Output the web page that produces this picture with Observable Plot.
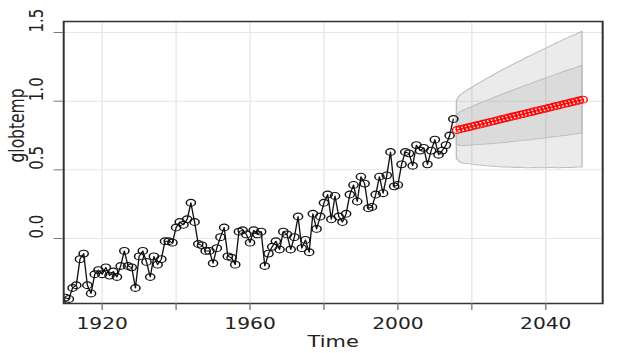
<!DOCTYPE html>
<html>
<head>
<meta charset="utf-8">
<script src="https://cdn.jsdelivr.net/npm/d3@7"></script>
<script src="https://cdn.jsdelivr.net/npm/@observablehq/plot@0.6"></script>
<style>
  html, body { margin: 0; padding: 0; background: #fff; }
  #chart svg { display: block; }
</style>
</head>
<body>
<div id="chart"></div>
<script>
// ---- data ----
const firstYear = 1909;
const globtemp = [
  -0.48, -0.43, -0.44, -0.36, -0.34, -0.15, -0.11, -0.34, -0.40, -0.26, -0.23,
  -0.26, -0.21, -0.27, -0.24, -0.28, -0.20, -0.09, -0.20, -0.21, -0.36,
  -0.13, -0.09, -0.17, -0.28, -0.13, -0.19, -0.15, -0.02, -0.02, -0.03,
   0.08,  0.12,  0.10,  0.14,  0.26,  0.12, -0.04, -0.05, -0.09, -0.09,
  -0.18, -0.07,  0.01,  0.08, -0.13, -0.14, -0.19,  0.05,  0.06,  0.03,
  -0.03,  0.06,  0.03,  0.05, -0.20, -0.11, -0.06, -0.02, -0.08,  0.05,
   0.03, -0.08,  0.01,  0.16, -0.07, -0.01, -0.10,  0.18,  0.07,  0.16,
   0.26,  0.32,  0.14,  0.31,  0.16,  0.12,  0.18,  0.32,  0.39,  0.27,
   0.45,  0.40,  0.22,  0.23,  0.32,  0.45,  0.33,  0.46,  0.63,  0.38,
   0.39,  0.54,  0.63,  0.62,  0.53,  0.68,  0.64,  0.66,  0.54,  0.64,
   0.72,  0.61,  0.64,  0.68,  0.75,  0.87
];
const foreStart = 2016;
const pred = [
  0.790, 0.797, 0.803, 0.810, 0.816, 0.823, 0.829, 0.836, 0.842, 0.849,
  0.855, 0.862, 0.868, 0.875, 0.881, 0.888, 0.894, 0.901, 0.907, 0.914,
  0.920, 0.927, 0.933, 0.940, 0.946, 0.953, 0.959, 0.966, 0.972, 0.979,
  0.985, 0.992, 0.998, 1.005, 1.011
];
const se = [
  0.105, 0.123, 0.129, 0.134, 0.139, 0.144, 0.149, 0.153, 0.158, 0.162,
  0.166, 0.171, 0.175, 0.179, 0.182, 0.186, 0.190, 0.193, 0.197, 0.201,
  0.204, 0.207, 0.211, 0.214, 0.217, 0.220, 0.223, 0.227, 0.230, 0.233,
  0.236, 0.239, 0.241, 0.244, 0.247
];
const xTicks = [1920, 1940, 1960, 1980, 2000, 2020, 2040];
const xLabels = [1920, 1960, 2000, 2040];
const yTicks = [0, 0.5, 1.0, 1.5];
const yTickLabels = ["0.0", "0.5", "1.0", "1.5"];

// ---- tables ----
const obs = globtemp.map((v, i) => ({year: firstYear + i, value: v}));
const fore = pred.map((p, i) => ({
  year: foreStart + i, pred: p,
  lo1: p - se[i], hi1: p + se[i],
  lo2: p - 2 * se[i], hi2: p + 2 * se[i]
}));

const W = 466, H = 353, FINAL_W = 629;

const chart = Plot.plot({
  width: W,
  height: H,
  marginLeft: 46.7,
  marginRight: 20,
  marginTop: 21,
  marginBottom: 50,
  style: {fontFamily: "DejaVu Sans", fontSize: "15px", background: "#fff", color: "#222"},
  x: {domain: [1909.6, 2055.4]},
  y: {domain: [-0.473, 1.580]},
  marks: [
    Plot.gridX(xTicks, {stroke: "#e6e6e6", strokeOpacity: 1, strokeWidth: 1}),
    Plot.gridY(yTicks, {stroke: "#e6e6e6", strokeOpacity: 1, strokeWidth: 1}),
    Plot.areaY(fore, {x: "year", y1: "lo2", y2: "hi2", fill: "#999", fillOpacity: 0.2, stroke: "#bebebe", strokeWidth: 1, clip: "frame"}),
    Plot.areaY(fore, {x: "year", y1: "lo1", y2: "hi1", fill: "#999", fillOpacity: 0.2, stroke: "#bebebe", strokeWidth: 1, clip: "frame"}),
    Plot.line(obs, {x: "year", y: "value", stroke: "#111", strokeWidth: 1, clip: "frame"}),
    Plot.dot(obs, {x: "year", y: "value", r: 3.4, stroke: "#111", strokeWidth: 1.1, fill: "none", clip: "frame"}),
    Plot.line(fore, {x: "year", y: "pred", stroke: "#ff0000", strokeWidth: 1, clip: "frame"}),
    Plot.dot(fore, {x: "year", y: "pred", r: 3.4, stroke: "#ff0000", strokeWidth: 1.1, fill: "none", clip: "frame"}),
    Plot.frame({stroke: "#333", strokeWidth: 1.5}),
    Plot.axisX({ticks: xTicks, tickSize: 7, tickPadding: 8, stroke: "#777", fill: "#222",
      tickFormat: d => xLabels.includes(d) ? String(d) : "", label: null}),
    Plot.axisY({ticks: yTicks, tickSize: 7, stroke: "#777", tickFormat: () => "", label: null}),
    Plot.text(yTicks, {y: d => d, text: (d, i) => yTickLabels[i], frameAnchor: "left", dx: -20.4, rotate: -90, fill: "#222", fontSize: 15}),
    Plot.text(["globtemp"], {text: d => d, frameAnchor: "left", dx: -34.5, rotate: -90, fill: "#222", fontSize: 15.5}),
    Plot.text(["Time"], {text: d => d, frameAnchor: "bottom", dy: 43, fill: "#222", fontSize: 15.5})
  ]
});

chart.setAttribute("width", FINAL_W);
chart.setAttribute("height", H);
chart.setAttribute("viewBox", `0 0 ${W} ${H}`);
chart.setAttribute("preserveAspectRatio", "none");
chart.style.maxWidth = "none";
chart.style.width = FINAL_W + "px";
chart.style.height = H + "px";
document.getElementById("chart").appendChild(chart);
</script>
</body>
</html>
